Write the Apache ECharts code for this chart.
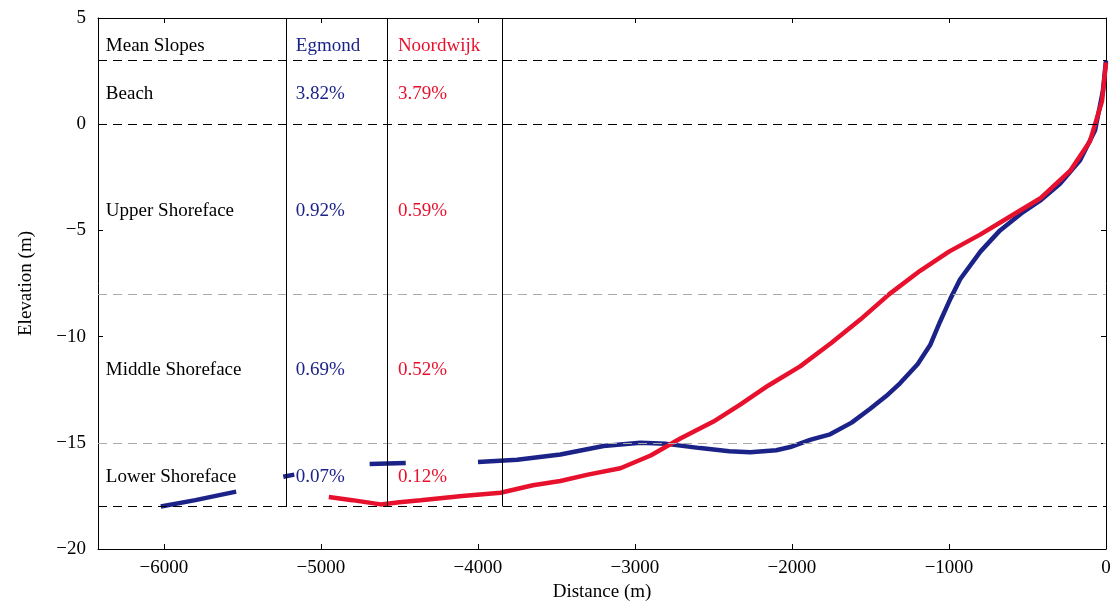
<!DOCTYPE html>
<html><head><meta charset="utf-8">
<script src="https://cdn.jsdelivr.net/npm/echarts@6/dist/echarts.min.js"></script>
<style>html,body{margin:0;background:#fff}#main{width:1115px;height:610px}</style>
</head><body><div id="main"></div>
<script>
// Egmond profile, broken into segments (null = gap)
var egmond = [[-6020,-18.0],[-5800,-17.7],[-5540,-17.3],null,
  [-5240,-16.6],[-5170,-16.5],null,
  [-4690,-16.0],[-4460,-15.95],null,
  [-4000,-15.9],[-3750,-15.8],[-3475,-15.55],[-3200,-15.15],[-2966,-15.0],[-2800,-15.05],
  [-2584,-15.25],[-2400,-15.4],[-2266,-15.45],[-2100,-15.35],[-2011,-15.2],[-1880,-14.85],
  [-1757,-14.6],[-1620,-14.05],[-1502,-13.4],[-1400,-12.8],[-1312,-12.2],[-1200,-11.3],
  [-1120,-10.4],[-1057,-9.3],[-990,-8.2],[-929,-7.3],[-800,-6.0],[-675,-5.0],[-540,-4.2],
  [-420,-3.6],[-293,-2.8],[-165,-1.7],[-70,-0.3],[-19,1.6],[0,3.0]];
var noordwijk = [[-4950,-17.55],[-4800,-17.7],[-4620,-17.9],[-4500,-17.8],[-4365,-17.7],
  [-4100,-17.5],[-3856,-17.35],[-3650,-17.0],[-3475,-16.8],[-3300,-16.5],[-3093,-16.2],
  [-2900,-15.6],[-2711,-14.8],[-2500,-14.0],[-2330,-13.2],[-2150,-12.3],[-1948,-11.4],
  [-1750,-10.3],[-1565,-9.2],[-1380,-8.0],[-1184,-6.9],[-1000,-6.0],[-802,-5.2],
  [-600,-4.3],[-420,-3.5],[-229,-2.2],[-102,-0.8],[-25,1.1],[0,2.9]];
var xTicks = [-6000,-5000,-4000,-3000,-2000,-1000,0];
var blackDashY = [3, 0, -18];
var grayDashY = [-8, -15];
var dividerX = [-5224, -4580, -3844];
var rowLabels = [['Mean Slopes',3.7],['Beach',1.4],['Upper Shoreface',-4.1],['Middle Shoreface',-11.55],['Lower Shoreface',-16.6]];
var egmondText = ['Egmond','3.82%','0.92%','0.69%','0.07%'];
var noordText = ['Noordwijk','3.79%','0.59%','0.52%','0.12%'];
var BLUE = '#1c2388', RED = '#e8112d';
var font = 'Liberation Serif, Times New Roman, serif';
function minus(v){ return String(v).replace('-', '\u2212'); }

function textSeries(xv, texts, color){
  return {type:'scatter', symbolSize:0, silent:true, z:5,
    data: texts.map(function(t,i){return {value:[xv, rowLabels[i][1]],
      label:{show:true, formatter:t, color:color, opacity:1}};}),
    label:{position:'right', distance:0, fontFamily:font, fontSize:19}};
}
var hLines = blackDashY.map(function(y){return {yAxis:y, lineStyle:{color:'#000',type:[9,6],width:1}};})
  .concat(grayDashY.map(function(y){return {yAxis:y, lineStyle:{color:'#aaa',type:[9,6],width:1}};}));
var vLines = dividerX.map(function(x){return [{coord:[x,5]},{coord:[x,-18]}];});

var myChart = echarts.init(document.getElementById('main'));
var blackLine = {show:true,onZero:false,lineStyle:{color:'#000'}};
myChart.setOption({
  animation:false,
  grid:{left:98,right:9,top:18,bottom:61},
  xAxis:[{type:'value',min:-6420,max:0,name:'Distance (m)',nameLocation:'middle',nameGap:30,
    nameTextStyle:{fontFamily:font,fontSize:19,color:'#000'},
    axisLine:blackLine,splitLine:{show:false},
    axisLabel:{customValues:xTicks,formatter:minus,fontFamily:font,fontSize:19,color:'#000',margin:10},
    axisTick:{inside:true,customValues:xTicks,lineStyle:{color:'#000'}}},
    {type:'value',position:'top',min:-6420,max:0,axisLine:blackLine,splitLine:{show:false},
     axisLabel:{show:false},axisTick:{inside:true,customValues:xTicks,lineStyle:{color:'#000'}}}],
  yAxis:[{type:'value',min:-20,max:5,interval:5,name:'Elevation (m)',nameLocation:'middle',nameGap:62,
    nameTextStyle:{fontFamily:font,fontSize:19,color:'#000'},
    axisLine:blackLine,splitLine:{show:false},
    axisLabel:{formatter:minus,fontFamily:font,fontSize:19,color:'#000',margin:12},axisTick:{inside:true,lineStyle:{color:'#000'}}},
    {type:'value',position:'right',min:-20,max:5,interval:5,axisLine:blackLine,
     splitLine:{show:false},axisLabel:{show:false},axisTick:{inside:true,lineStyle:{color:'#000'}}}],
  series:[
    {type:'line',data:[],markLine:{silent:true,symbol:'none',label:{show:false},data:hLines.concat(vLines),
      lineStyle:{color:'#000',type:'solid',width:1}}},
    {type:'line',name:'Egmond',data:egmond,showSymbol:false,connectNulls:false,lineStyle:{color:BLUE,width:4.5},z:3},
    {type:'line',name:'Noordwijk',data:noordwijk,showSymbol:false,lineStyle:{color:RED,width:4.5},z:4},
    textSeries(-6370, rowLabels.map(function(r){return r[0];}), '#000'),
    textSeries(-5160, egmondText, BLUE),
    textSeries(-4510, noordText, RED)
  ]
});
</script></body></html>
